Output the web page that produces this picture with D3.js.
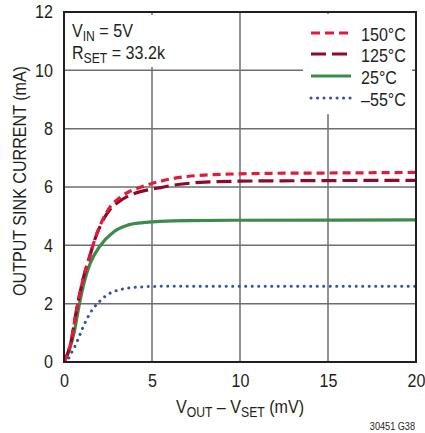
<!DOCTYPE html>
<html><head><meta charset="utf-8">
<script src="https://cdn.jsdelivr.net/npm/d3@7"></script>
<style>
body{margin:0;background:#fff;}
svg text{font-family:"Liberation Sans Narrow","Arial Narrow","Liberation Sans",Arial,sans-serif;fill:#231f20;}
</style></head>
<body><svg id="c" width="425" height="433"></svg>
<script>
const xTicks = [0,5,10,15,20];
const yTicks = [0,2,4,6,8,10,12];
const seriesNames = ["150°C","125°C","25°C","–55°C"];
const s150 = [[0,0],[0.4,0.7],[0.7,1.75],[0.9,2.35],[1.15,3.0],[1.45,3.6],[1.75,4.2],[2.1,4.75],[2.6,5.3],[3.2,5.65],[3.8,5.87],[4.3,5.98],[5,6.12],[5.5,6.2],[6,6.27],[7,6.36],[8,6.41],[10,6.45],[12,6.47],[15,6.48],[20,6.5]];
const s125 = [[0,0],[0.4,0.7],[0.7,1.75],[0.9,2.35],[1.15,3.0],[1.45,3.6],[1.75,4.2],[2.1,4.72],[2.6,5.22],[3.2,5.53],[3.8,5.73],[4.4,5.85],[5,5.93],[5.5,5.98],[6,6.04],[7,6.12],[8,6.17],[10,6.2],[15,6.22],[20,6.23]];
const s25 = [[0,0],[0.3,0.4],[0.6,1.08],[0.8,1.75],[1.0,2.35],[1.27,3.0],[1.5,3.4],[2.05,3.98],[2.8,4.45],[3.56,4.68],[4.5,4.78],[5.45,4.82],[7,4.85],[10,4.86],[20,4.87]];
const sm55 = [[0,0],[0.26,0.12],[0.45,0.35],[0.64,0.56],[0.8,0.78],[0.95,1.0],[1.1,1.22],[1.27,1.44],[1.46,1.65],[1.65,1.83],[1.93,2.02],[2.2,2.18],[2.5,2.32],[2.9,2.43],[3.5,2.52],[4.3,2.57],[5,2.59],[7,2.6],[10,2.6],[20,2.6]];

const SX = 0.87, FS = 18.5, FSUB = 14;
function condense(sel){
  sel.each(function(){
    const t = d3.select(this);
    const x = +(t.attr("x")||0);
    const prev = t.attr("transform")||"";
    t.attr("transform", `${prev} translate(${x},0) scale(${SX},1) translate(${-x},0)`);
  });
}

const svg = d3.select("#c");
const L=64,R=416,T=12,B=362;
const x = d3.scaleLinear().domain([0,20]).range([L,R]);
const y = d3.scaleLinear().domain([0,12]).range([B,T]);

// grid
const g = svg.append("g");
g.selectAll(".vg").data(xTicks.slice(1,-1)).enter().append("line")
 .attr("x1",d=>x(d)).attr("x2",d=>x(d)).attr("y1",T).attr("y2",B)
 .attr("stroke","#6d6e71").attr("stroke-width",1.5);
g.selectAll(".hg").data(yTicks.slice(1,-1)).enter().append("line")
 .attr("x1",L).attr("x2",R).attr("y1",d=>y(d)).attr("y2",d=>y(d))
 .attr("stroke","#6d6e71").attr("stroke-width",1.5);

// white boxes behind annotation and legend
svg.append("rect").attr("x",L+2).attr("y",15).attr("width",140).attr("height",52).attr("fill","#fff");
svg.append("rect").attr("x",303).attr("y",14).attr("width",109).attr("height",100).attr("fill","#fff");

// curves
const line = d3.line().x(d=>x(d[0])).y(d=>y(d[1])).curve(d3.curveMonotoneX);
const styles = [
 {data:s150,color:"#e31b38",dash:"8,5",cap:"butt"},
 {data:s125,color:"#8c0b2c",dash:"15,6",cap:"butt"},
 {data:s25,color:"#3b8c4c",dash:null,cap:"butt"},
 {data:sm55,color:"#3453a6",dash:"0.1,6.4",cap:"round"}
];
const plot = svg.append("g");
plot.append("clipPath").attr("id","clp").append("rect").attr("x",L).attr("y",T).attr("width",R-L).attr("height",B-T);
[3,2,1,0].forEach(i=>{
 const s=styles[i];
 plot.append("path").attr("d",line(s.data)).attr("fill","none")
  .attr("stroke",s.color).attr("stroke-width",i==3?3:3.2)
  .attr("stroke-dasharray",s.dash).attr("stroke-linecap",s.cap)
  .attr("clip-path","url(#clp)");
});

// frame
svg.append("rect").attr("x",L).attr("y",T).attr("width",R-L).attr("height",B-T)
 .attr("fill","none").attr("stroke","#231f20").attr("stroke-width",2);

// axes
const xa = svg.append("g").attr("transform",`translate(0,${B})`)
 .call(d3.axisBottom(x).tickValues(xTicks).tickSize(0).tickPadding(12));
xa.select(".domain").remove();
xa.selectAll("text").attr("font-size",FS).attr("fill","#231f20").call(condense);
const ya = svg.append("g").attr("transform",`translate(${L},0)`)
 .call(d3.axisLeft(y).tickValues(yTicks).tickSize(0).tickPadding(11));
ya.select(".domain").remove();
ya.selectAll("text").attr("font-size",FS).attr("fill","#231f20").call(condense);

// annotation
const ann = svg.append("text").attr("x",72).attr("y",37).attr("font-size",FS);
ann.append("tspan").text("V");
ann.append("tspan").text("IN").attr("font-size",FSUB).attr("dy",4);
ann.append("tspan").text(" = 5V").attr("dy",-4);
const ann2 = svg.append("text").attr("x",72).attr("y",59).attr("font-size",FS);
ann2.append("tspan").text("R");
ann2.append("tspan").text("SET").attr("font-size",FSUB).attr("dy",4);
ann2.append("tspan").text(" = 33.2k").attr("dy",-4);
condense(ann); condense(ann2);

// legend
const ly = [33,54,76,98];
styles.forEach((s,i)=>{
 svg.append("line").attr("x1",311).attr("x2",351).attr("y1",ly[i]).attr("y2",ly[i])
  .attr("stroke",s.color).attr("stroke-width",i==3?3:3.2)
  .attr("stroke-dasharray",i==0?"9,5":i==1?"15,6":i==3?"0.1,6.4":null)
  .attr("stroke-linecap",s.cap);
 svg.append("text").attr("x",361).attr("y",ly[i]+8).attr("font-size",FS).text(seriesNames[i]).call(condense);
});

// axis titles
const xt = svg.append("text").attr("x",(L+R)/2).attr("y",413).attr("text-anchor","middle").attr("font-size",FS);
xt.append("tspan").text("V");
xt.append("tspan").text("OUT").attr("font-size",FSUB).attr("dy",4);
xt.append("tspan").text(" – V").attr("dy",-4);
xt.append("tspan").text("SET").attr("font-size",FSUB).attr("dy",4);
xt.append("tspan").text(" (mV)").attr("dy",-4);
condense(xt);

svg.append("text").attr("transform",`translate(26,181) rotate(-90)`)
 .attr("text-anchor","middle").attr("font-size",FS).text("OUTPUT SINK CURRENT (mA)").call(condense);

svg.append("text").attr("x",415).attr("y",430).attr("text-anchor","end").attr("font-size",10.5).text("30451 G38").call(condense);
</script></body></html>
